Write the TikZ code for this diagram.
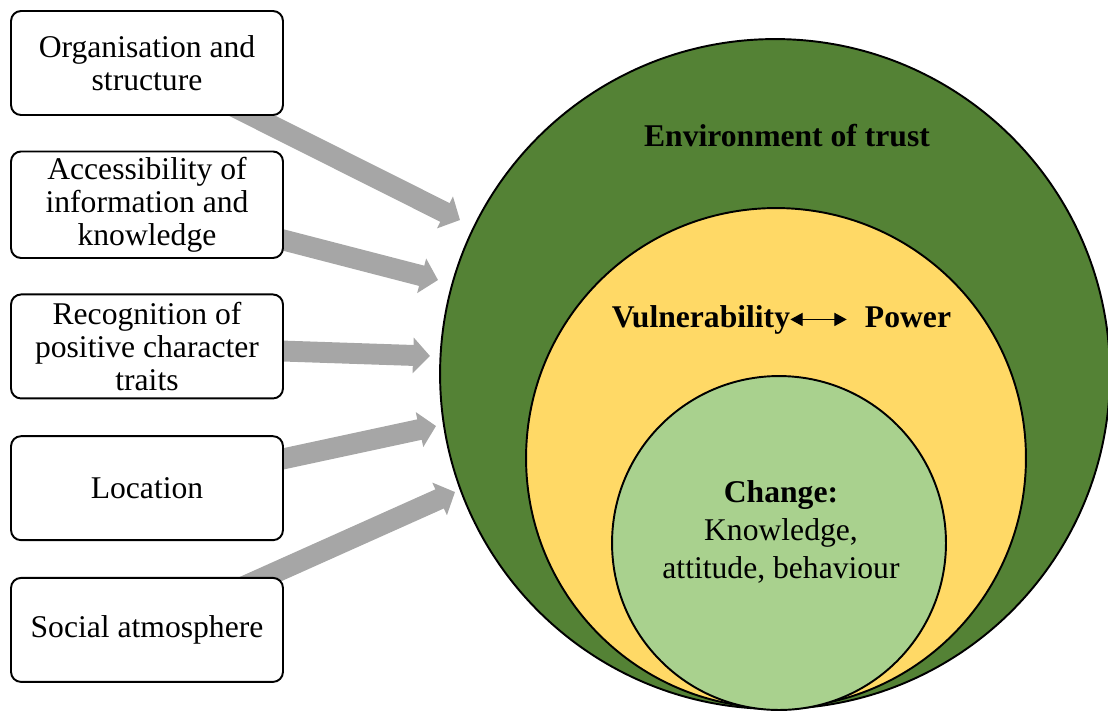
\documentclass[tikz,border=0pt]{standalone}
\usepackage{fontspec}
\setmainfont{Liberation Serif}
\usetikzlibrary{arrows.meta,positioning,backgrounds}
\definecolor{trustgreen}{HTML}{548235}
\definecolor{powyellow}{HTML}{FFD966}
\definecolor{changegreen}{HTML}{A9D18E}
\definecolor{feedgray}{HTML}{A6A6A6}
\tikzset{factor/.style={draw, line width=1.1pt, rounded corners=0.2cm, fill=white,
    minimum width=5.44cm, minimum height=2.08cm, align=center,
    font=\fontsize{18}{18.7}\selectfont}}
\tikzset{feed/.style={draw=feedgray, line width=11.9pt,
    -{Triangle[length=9.6pt,width=19.8pt]}}}
\tikzset{ring/.style={circle, draw, line width=1.1pt, inner sep=0pt}}

\begin{document}
\begin{tikzpicture}[x=0.02cm, y=-0.02cm, node distance=2.835cm]
    \useasboundingbox (0,0) rectangle (1108,711);

    \node[factor] (org) at (147,63) {Organisation and\\structure};
    \node[factor] (access) [below of=org] {Accessibility of\\information and\\knowledge};
    \node[factor] (recog) [below of=access] {Recognition of\\positive character\\traits};
    \node[factor] (loc) [below of=recog] {Location};
    \node[factor] (social) [below of=loc] {Social atmosphere};

    \node[ring, fill=trustgreen, minimum size=13.4cm] (env) at (775,374) {};
    \node[ring, fill=powyellow, minimum size=10cm] (vp) at (776,458) {};
    \node[ring, fill=changegreen, minimum size=6.68cm] (chg) at (779,543) {};

    \node[font=\fontsize{18}{18.7}\selectfont\bfseries, anchor=base] (envlabel) at (787,146) {Environment of trust};
    \node[font=\fontsize{18}{18.7}\selectfont\bfseries, anchor=base, inner sep=0pt] (vuln) at (701,327) {Vulnerability};
    \node[font=\fontsize{18}{18.7}\selectfont\bfseries, anchor=base, inner sep=0pt] (power) at (908,327) {Power};
    \draw[{Triangle[length=7pt,width=7.5pt]}-{Triangle[length=7pt,width=7.5pt]}, line width=0.7pt, shorten >=0.36cm]
        (vuln.east) -- (vuln.east -| power.west);
    \node[font=\fontsize{18}{21.5}\selectfont, align=center] (chglabel) at (781,532)
        {\textbf{Change:}\\Knowledge,\\attitude, behaviour};

    \coordinate (t1) at (460,220);
    \coordinate (t2) at (438,280);
    \coordinate (t3) at (430,356);
    \coordinate (t4) at (436,426);
    \coordinate (t5) at (455,492);
    \begin{scope}[on background layer]
        \draw[feed] (org.center) -- (t1);
        \draw[feed] (access.center) -- (t2);
        \draw[feed] (recog.center) -- (t3);
        \draw[feed] (loc.center) -- (t4);
        \draw[feed] (social.center) -- (t5);
    \end{scope}
\end{tikzpicture}
\end{document}
